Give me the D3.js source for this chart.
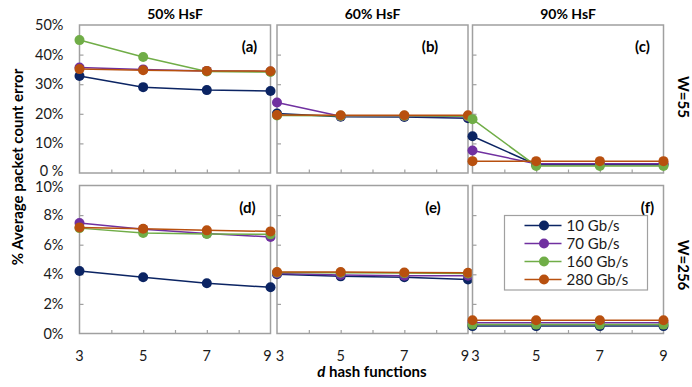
<!DOCTYPE html>
<html>
<head>
<meta charset="utf-8">
<script src="https://cdn.jsdelivr.net/npm/d3@7"></script>
<style>
  body { margin: 0; background: #fff; }
  svg { font-family: Lato, "Open Sans", sans-serif; }
</style>
</head>
<body>
<svg width="692" height="387"></svg>
<script>
// Data
const hashFns = [3, 5, 7, 9];
const rates = ['10 Gb/s', '70 Gb/s', '160 Gb/s', '280 Gb/s'];
const colors = ['#0b2463', '#7030a0', '#70ad47', '#b8500f'];
const hsfLabels = ['50% HsF', '60% HsF', '90% HsF'];
const windowLabels = ['W=55', 'W=256'];
const panelTags = ['(a)', '(b)', '(c)', '(d)', '(e)', '(f)'];

// error % per rate (rows: 10, 70, 160, 280 Gb/s)
const errA = [[32.8, 29.0, 28.0, 27.7], [35.6, 35.0, 34.5, 34.3], [44.9, 39.2, 34.3, 34.1], [35.1, 34.7, 34.5, 34.4]];
const errB = [[20.1, 19.0, 18.9, 18.5], [23.8, 19.2, 19.2, 19.0], [19.4, 19.3, 19.3, 19.2], [19.6, 19.5, 19.5, 19.5]];
const errC = [[12.4, 2.8, 2.8, 2.8], [7.6, 3.1, 3.1, 3.1], [18.2, 2.4, 2.4, 2.4], [4.0, 4.0, 4.0, 4.0]];
const errD = [[4.22, 3.80, 3.39, 3.12], [7.46, 7.05, 6.75, 6.52], [7.12, 6.79, 6.72, 6.70], [7.17, 7.08, 6.97, 6.90]];
const errE = [[4.00, 3.86, 3.80, 3.65], [4.05, 3.95, 3.90, 3.90], [4.12, 4.10, 4.08, 4.05], [4.16, 4.15, 4.12, 4.10]];
const errF = [[0.50, 0.50, 0.50, 0.50], [0.72, 0.72, 0.72, 0.72], [0.60, 0.60, 0.60, 0.60], [0.90, 0.90, 0.90, 0.90]];

const topTicks = [0, 10, 20, 30, 40, 50];
const bottomTicks = [0, 2, 4, 6, 8, 10];
const xTickLabels = [3, 5, 7, 9];

// Layout
const colLeft = [79.5, 277, 472.5];
const panelW = 191;
const rowTop = [25, 185.5];
const panelH = 148;
const tagOffset = [21, 38, 21, 23, 35, 16];
const grid = '#a0a0a0';

const svg = d3.select('svg');

const panels = [
  { data: errA, row: 0, col: 0 }, { data: errB, row: 0, col: 1 }, { data: errC, row: 0, col: 2 },
  { data: errD, row: 1, col: 0 }, { data: errE, row: 1, col: 1 }, { data: errF, row: 1, col: 2 }
];

panels.forEach((p, i) => {
  const ticks = p.row === 0 ? topTicks : bottomTicks;
  const x = d3.scaleLinear().domain([3, 9]).range([0, panelW]);
  const y = d3.scaleLinear().domain([0, d3.max(ticks)]).range([panelH, 0]);

  const g = svg.append('g')
    .attr('transform', `translate(${colLeft[p.col]},${rowTop[p.row]})`);

  g.append('rect')
    .attr('width', panelW).attr('height', panelH)
    .attr('fill', 'none').attr('stroke', grid).attr('stroke-width', 1.5);

  // inward ticks
  g.append('g').attr('transform', `translate(0,${panelH})`)
    .call(d3.axisTop(x).tickValues(d3.range(4, 9)).tickSize(3.5).tickFormat(''))
    .call(a => a.select('.domain').remove())
    .call(a => a.selectAll('line').attr('stroke', grid).attr('stroke-width', 1.2));
  g.append('g')
    .call(d3.axisRight(y).tickValues(ticks.slice(1, -1)).tickSize(4).tickFormat(''))
    .call(a => a.select('.domain').remove())
    .call(a => a.selectAll('line').attr('stroke', grid).attr('stroke-width', 1.2));

  // tick labels on outer panels only
  if (p.col === 0) {
    const top = d3.max(ticks);
    g.selectAll('.ylab').data(ticks).join('text')
      .attr('x', -16)
      .attr('y', d => y(d) + (p.row === 0 && d === 0 ? -2.5 : 0) + (p.row === 1 && d === top ? 1 : 0))
      .attr('dy', '0.35em')
      .attr('text-anchor', 'end').attr('font-size', 14.5).attr('fill', '#1a1a1a')
      .text(d => (p.row === 0 && d === 0) ? '0 %' : d + '%');
  }
  if (p.row === 1) {
    g.selectAll('.xlab').data(xTickLabels).join('text')
      .attr('x', d => x(d) + (d === 3 && p.col > 0 ? 3 : 0) + (d === 9 && p.col < 2 ? -3 : 0))
      .attr('y', panelH + 27)
      .attr('text-anchor', 'middle').attr('font-size', 14.5).attr('fill', '#1a1a1a')
      .text(d => d);
  }
  if (p.row === 0) {
    g.append('text')
      .attr('x', panelW / 2).attr('y', -6.5)
      .attr('text-anchor', 'middle').attr('font-size', 14).attr('font-weight', 'bold')
      .text(hsfLabels[p.col]);
  }

  g.append('text')
    .attr('x', panelW - tagOffset[i]).attr('y', 27)
    .attr('text-anchor', 'middle').attr('font-size', 15).attr('font-weight', 'bold')
    .text(panelTags[i]);

  const line = d3.line().x((d, j) => x(hashFns[j])).y(d => y(d));

  p.data.forEach((vals, s) => {
    const sg = g.append('g');
    sg.append('path').datum(vals)
      .attr('d', line).attr('fill', 'none')
      .attr('stroke', colors[s]).attr('stroke-width', 1.5);
    sg.selectAll('circle').data(vals).join('circle')
      .attr('cx', (d, j) => x(hashFns[j])).attr('cy', d => y(d))
      .attr('r', 5).attr('fill', colors[s]);
  });
});

// Row labels
windowLabels.forEach((lab, r) => {
  const cy = r === 0 ? 97 : 265;
  svg.append('text')
    .attr('transform', `translate(678,${cy}) rotate(90)`)
    .attr('text-anchor', 'middle').attr('font-size', 15).attr('font-weight', 'bold')
    .text(lab);
});

// Axis titles
svg.append('text')
  .attr('transform', 'translate(23,167) rotate(-90)')
  .attr('text-anchor', 'middle').attr('font-size', 15).attr('font-weight', 'bold')
  .text('% Average packet count error');

const xt = svg.append('text')
  .attr('x', 372).attr('y', 377)
  .attr('text-anchor', 'middle').attr('font-size', 15).attr('font-weight', 'bold');
xt.append('tspan').attr('font-style', 'italic').text('d');
xt.append('tspan').text(' hash functions');

// Legend in panel (f)
const lg = svg.append('g').attr('transform', 'translate(504.5,215.5)');
lg.append('rect').attr('width', 143).attr('height', 74.5)
  .attr('fill', '#fff').attr('stroke', grid).attr('stroke-width', 1.2);
rates.forEach((r, s) => {
  const ly = 10 + s * 18;
  lg.append('line').attr('x1', 20).attr('x2', 57).attr('y1', ly).attr('y2', ly)
    .attr('stroke', colors[s]).attr('stroke-width', 1.5);
  lg.append('circle').attr('cx', 39.5).attr('cy', ly).attr('r', 5).attr('fill', colors[s]);
  lg.append('text').attr('x', 62).attr('y', ly).attr('dy', '0.35em')
    .attr('font-size', 15).attr('fill', '#1a1a1a').text(r);
});
</script>
</body>
</html>
